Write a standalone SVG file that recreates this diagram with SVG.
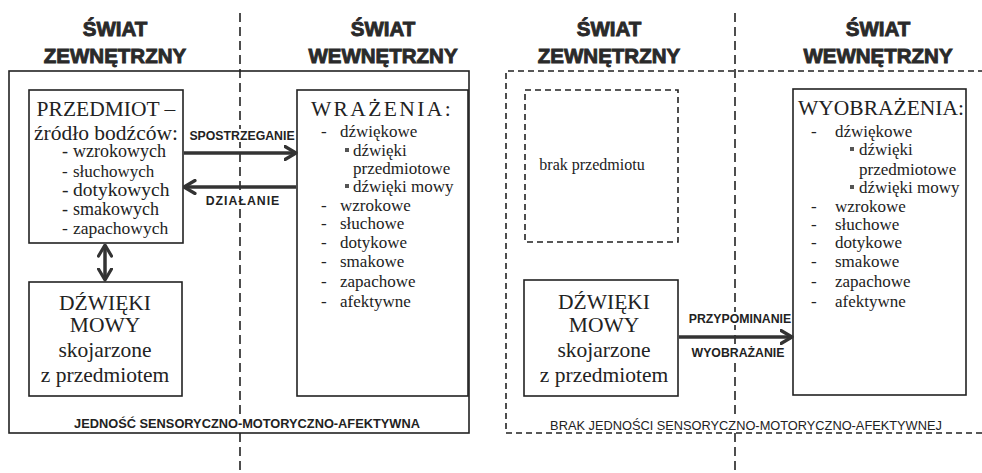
<svg xmlns="http://www.w3.org/2000/svg" width="982" height="473" viewBox="0 0 982 473">
<style>
.hd{font-family:"Liberation Sans",Arial,sans-serif;font-weight:bold;font-size:20.5px;fill:#2a2a2a;stroke:#2a2a2a;stroke-width:0.9;text-anchor:middle}
.box{fill:none;stroke:#222;stroke-width:1.6}
.dbox{fill:none;stroke:#222;stroke-width:1.6;stroke-dasharray:6 4}
.vl{stroke:#222;stroke-width:1.6;stroke-dasharray:9 5}
.t{font-family:"Liberation Serif","Times New Roman",serif;fill:#222}
.big{font-size:21.5px;text-anchor:middle}
.li{font-size:17px}
.lbl{font-family:"Liberation Sans",Arial,sans-serif;font-weight:bold;font-size:12.3px;fill:#222;text-anchor:middle}
.bot{font-family:"Liberation Sans",Arial,sans-serif;font-size:12.8px;fill:#222;text-anchor:middle}
.bg{fill:#fff}
.arr{stroke:#333;stroke-width:3.5;fill:none}
.bul{fill:#555}
</style>
<defs>
<marker id="ah" viewBox="0 0 14 16" refX="12.5" refY="8" markerWidth="14" markerHeight="16" markerUnits="userSpaceOnUse" orient="auto-start-reverse">
<path d="M1.5,1.5 L12.5,8 L1.5,14.5" fill="none" stroke="#333" stroke-width="3.2" stroke-linecap="round" stroke-linejoin="round"/>
</marker>
</defs>
<rect width="982" height="473" fill="#fff"/>

<g id="dividers">
<line class="vl" x1="240" y1="13" x2="240" y2="473"/>
<line class="vl" x1="735" y1="13" x2="735" y2="473"/>
</g>

<g id="headers">
<text class="hd" x="115" y="36">ŚWIAT</text>
<text class="hd" x="115" y="63">ZEWNĘTRZNY</text>
<text class="hd" x="383" y="36">ŚWIAT</text>
<text class="hd" x="383" y="63">WEWNĘTRZNY</text>
<text class="hd" x="609" y="36">ŚWIAT</text>
<text class="hd" x="609" y="63">ZEWNĘTRZNY</text>
<text class="hd" x="878" y="36">ŚWIAT</text>
<text class="hd" x="878" y="63">WEWNĘTRZNY</text>
</g>

<g id="frame-left">
<rect class="box" x="9" y="71" width="460" height="362"/>
<rect class="bg" x="72" y="417" width="352" height="14"/>
<text class="bot" x="247" y="428" font-weight="bold">JEDNOŚĆ SENSORYCZNO-MOTORYCZNO-AFEKTYWNA</text>
</g>

<g id="frame-right">
<path class="dbox" d="M984,71 L506,71 L506,433 L984,433"/>
<rect class="bg" x="548" y="419" width="396" height="13"/>
<text class="bot" x="746" y="430">BRAK JEDNOŚCI SENSORYCZNO-MOTORYCZNO-AFEKTYWNEJ</text>
</g>

<g id="przedmiot">
<rect class="box" x="29" y="90" width="154" height="153"/>
<text class="t big" x="106" y="116" font-size="22">PRZEDMIOT –</text>
<text class="t big" x="106" y="140" font-size="22">źródło bodźców:</text>
<g class="t">
<text x="62" y="157" font-size="18">-</text><text x="73" y="157" font-size="18">wzrokowych</text>
<text x="62" y="177" font-size="17">-</text><text x="73" y="177" font-size="17">słuchowych</text>
<text x="62" y="196" font-size="19.5">-</text><text x="73" y="196" font-size="19.5">dotykowych</text>
<text x="62" y="215" font-size="18">-</text><text x="73" y="215" font-size="18">smakowych</text>
<text x="62" y="234" font-size="17.5">-</text><text x="73" y="234" font-size="17.5">zapachowych</text>
</g>
</g>

<g id="dzwieki-left">
<rect class="box" x="29" y="282" width="153" height="114"/>
<text class="t big" x="105" y="310">DŹWIĘKI</text>
<text class="t big" x="105" y="332">MOWY</text>
<text class="t big" x="105" y="357">skojarzone</text>
<text class="t big" x="105" y="382">z przedmiotem</text>
</g>

<g id="wrazenia">
<rect class="box" x="297" y="90" width="171" height="306"/>
<text class="t big" x="382" y="116" font-size="22.5" letter-spacing="2.4">WRAŻENIA:</text>
<g class="t li">
<text x="321" y="137">-</text><text x="340" y="137">dźwiękowe</text>
<rect class="bul" x="345" y="148" width="4" height="4"/><text x="353" y="156">dźwięki</text>
<text x="353" y="174">przedmiotowe</text>
<rect class="bul" x="345" y="184" width="4" height="4"/><text x="353" y="192">dźwięki mowy</text>
<text x="321" y="211">-</text><text x="340" y="211">wzrokowe</text>
<text x="321" y="229">-</text><text x="340" y="229">słuchowe</text>
<text x="321" y="248">-</text><text x="340" y="248">dotykowe</text>
<text x="321" y="267">-</text><text x="340" y="267">smakowe</text>
<text x="321" y="287">-</text><text x="340" y="287">zapachowe</text>
<text x="321" y="307">-</text><text x="340" y="307">afektywne</text>
</g>
</g>

<g id="brak">
<rect class="dbox" x="525" y="90" width="153" height="152"/>
<text class="t" x="592" y="170" font-size="16" text-anchor="middle">brak przedmiotu</text>
</g>

<g id="dzwieki-right">
<rect class="box" x="524" y="280" width="154" height="116"/>
<text class="t big" x="604" y="309">DŹWIĘKI</text>
<text class="t big" x="604" y="332">MOWY</text>
<text class="t big" x="604" y="357">skojarzone</text>
<text class="t big" x="604" y="382">z przedmiotem</text>
</g>

<g id="wyobrazenia">
<rect class="box" x="793" y="89" width="173" height="306"/>
<text class="t big" x="881" y="115" font-size="22">WYOBRAŻENIA:</text>
<g class="t li">
<text x="811" y="137">-</text><text x="835" y="137">dźwiękowe</text>
<rect class="bul" x="850" y="147" width="4" height="4"/><text x="859" y="155">dźwięki</text>
<text x="859" y="175">przedmiotowe</text>
<rect class="bul" x="850" y="185" width="4" height="4"/><text x="859" y="193">dźwięki mowy</text>
<text x="811" y="212">-</text><text x="835" y="212">wzrokowe</text>
<text x="811" y="230">-</text><text x="835" y="230">słuchowe</text>
<text x="811" y="248">-</text><text x="835" y="248">dotykowe</text>
<text x="811" y="267">-</text><text x="835" y="267">smakowe</text>
<text x="811" y="287">-</text><text x="835" y="287">zapachowe</text>
<text x="811" y="307">-</text><text x="835" y="307">afektywne</text>
</g>
</g>

<g id="connectors">
<line class="arr" x1="184" y1="153" x2="296" y2="153" marker-end="url(#ah)"/>
<line class="arr" x1="296" y1="187" x2="184" y2="187" marker-end="url(#ah)"/>
<line class="arr" x1="105" y1="245" x2="105" y2="280" marker-start="url(#ah)" marker-end="url(#ah)"/>
<line class="arr" x1="679" y1="337" x2="792" y2="337" marker-end="url(#ah)"/>
<rect class="bg" x="187" y="129" width="109" height="13"/>
<text class="lbl" x="242" y="140">SPOSTRZEGANIE</text>
<rect class="bg" x="204" y="194" width="78" height="13"/>
<text class="lbl" x="243" y="205" letter-spacing="1">DZIAŁANIE</text>
<rect class="bg" x="687" y="312" width="105" height="13"/>
<text class="lbl" x="740" y="323">PRZYPOMINANIE</text>
<rect class="bg" x="689" y="346" width="97" height="13"/>
<text class="lbl" x="738" y="357">WYOBRAŻANIE</text>
</g>
</svg>
